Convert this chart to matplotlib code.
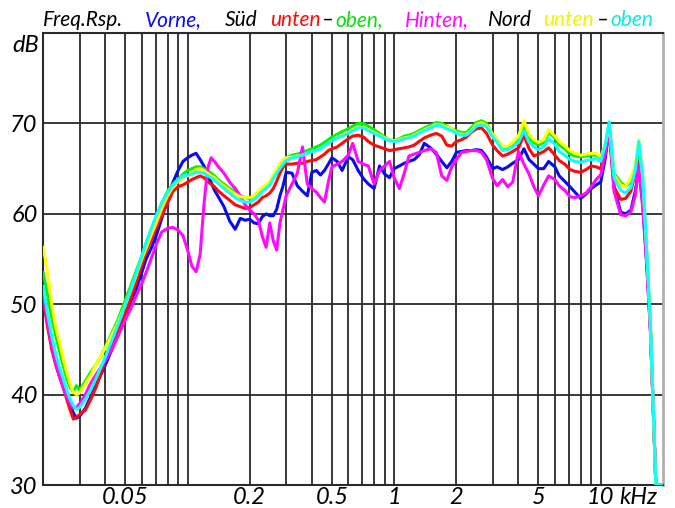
import numpy as np
import matplotlib
matplotlib.use("Agg")
import matplotlib.pyplot as plt
from matplotlib.ticker import NullFormatter

# frequency axis in kHz, shared by all six curves
freq_khz = [
    0.020, 0.021, 0.022, 0.023, 0.024, 0.025, 0.026, 0.027, 0.028, 0.029,
    0.030, 0.032, 0.034, 0.036, 0.038, 0.040, 0.043, 0.046, 0.050, 0.053,
    0.056, 0.060, 0.063, 0.067, 0.071, 0.075, 0.080, 0.085, 0.090, 0.095,
    0.100, 0.105, 0.110, 0.115, 0.120, 0.125, 0.130, 0.135, 0.140, 0.150,
    0.160, 0.170, 0.180, 0.190, 0.200, 0.210, 0.220, 0.230, 0.240, 0.250,
    0.260, 0.270, 0.280, 0.290, 0.300, 0.320, 0.340, 0.360, 0.380, 0.400,
    0.420, 0.440, 0.460, 0.480, 0.500, 0.530, 0.560, 0.600, 0.630, 0.670,
    0.710, 0.750, 0.800, 0.850, 0.900, 0.950, 1.00, 1.06, 1.12, 1.18,
    1.25, 1.32, 1.40, 1.50, 1.60, 1.70, 1.80, 1.90, 2.00, 2.12,
    2.24, 2.36, 2.50, 2.65, 2.80, 3.00, 3.15, 3.35, 3.55, 3.75,
    4.00, 4.25, 4.50, 4.75, 5.00, 5.30, 5.60, 6.00, 6.30, 6.70,
    7.10, 7.50, 8.00, 8.50, 9.00, 9.50, 10.0, 10.5, 11.0, 11.6,
    12.5, 13.2, 14.0, 14.7, 15.3, 16.0, 16.7, 17.4, 18.0, 18.5,
    20.0]

# dB values
vorne = [
    50.8, 48.0, 45.5, 43.5, 42.0, 41.0, 39.8, 38.8, 38.0, 37.4,
    37.6, 38.5, 39.8, 41.0, 42.2, 43.3, 45.0, 46.6, 48.6, 50.0,
    51.5, 53.5, 55.0, 56.3, 57.8, 59.5, 61.8, 63.5, 64.8, 65.8,
    66.2, 66.5, 66.7, 66.0, 65.3, 64.3, 63.5, 62.6, 62.0, 60.8,
    59.2, 58.3, 59.5, 59.3, 59.4, 59.0, 58.9, 59.7, 60.0, 59.8,
    59.8, 60.5, 62.0, 63.1, 64.6, 64.5, 63.1, 62.5, 62.0, 64.6,
    64.8, 64.3, 64.8, 65.5, 66.2, 65.8, 64.8, 66.3, 66.0, 64.8,
    63.9, 63.3, 62.8, 65.3, 64.4, 64.0, 65.0, 65.3, 65.6, 65.8,
    66.0, 66.5, 67.8, 67.3, 66.6, 65.8, 65.1, 65.8, 66.8, 66.9,
    67.0, 67.0, 67.1, 67.0, 66.3, 65.0, 65.2, 64.9, 65.2, 65.6,
    66.0, 67.2, 66.0, 65.5, 65.0, 65.0, 65.8, 65.2, 64.2, 63.6,
    63.0, 62.4, 61.7, 62.2, 62.8, 63.2, 63.5, 66.0, 69.4, 63.0,
    60.2, 60.0, 60.4, 62.5, 65.0, 61.0, 54.5, 47.3, 38.0, 30.0,
    30.0]

sued_unten = [
    50.5, 47.5, 45.0, 43.3, 42.0, 40.8, 39.5, 38.3, 37.3, 37.5,
    37.8, 38.3, 39.5, 40.8, 42.3, 43.8, 45.5, 47.0, 49.0, 50.6,
    52.2, 54.3, 55.8, 57.2, 58.6, 59.8, 61.2, 62.5, 63.0, 63.2,
    63.5, 63.8, 64.0, 64.2, 64.0, 63.6, 63.3, 63.0, 62.6, 62.0,
    61.5, 61.0, 60.8, 60.6, 60.7, 61.0, 61.3, 61.8, 62.0, 62.3,
    62.8, 63.6, 64.5, 65.2, 65.5, 65.5, 65.6, 65.6, 65.8, 65.9,
    66.0, 66.3, 66.6, 67.0, 67.2, 67.4, 67.8, 68.3, 68.6, 68.7,
    68.5, 68.0, 67.6, 67.4, 67.2, 67.0, 67.1, 67.2, 67.3, 67.4,
    67.6, 68.0, 68.4, 68.7, 68.9, 68.6, 67.6, 67.5, 68.0, 68.2,
    68.5, 69.0, 69.4, 69.5, 68.9, 67.6, 67.0, 66.4, 66.6, 66.9,
    67.3, 68.7, 67.2, 66.4, 66.6, 66.9, 67.3, 66.5, 65.9, 65.5,
    64.9, 64.7, 64.6, 64.9, 65.3, 65.2, 65.0, 66.8, 69.6, 63.0,
    61.6, 61.7, 62.5, 64.5, 66.6, 62.5, 55.5, 47.5, 38.0, 30.0,
    30.0]

sued_oben = [
    53.5, 51.0, 48.5, 46.5, 44.8, 43.2, 41.8, 40.8, 40.3, 41.0,
    40.5, 41.5, 42.5, 43.3, 44.2, 45.3, 46.8, 48.3, 50.5, 52.0,
    53.5, 55.3, 56.8, 58.3, 59.8, 61.2, 62.5, 63.3, 63.8, 64.4,
    64.8, 65.0, 65.2, 65.2, 65.0, 64.8, 64.5, 64.2, 63.8, 63.3,
    62.8, 62.4, 62.0, 61.8, 61.7, 62.0, 62.4, 62.8, 63.0, 63.5,
    64.2, 64.8, 65.4, 65.9, 66.2, 66.5, 66.6, 66.8, 67.0, 67.2,
    67.4, 67.6, 67.9, 68.2, 68.5, 68.8, 69.1, 69.4, 69.7, 70.0,
    70.0, 69.7, 69.3, 68.9, 68.5, 68.2, 68.1, 68.3, 68.6, 68.7,
    68.9, 69.2, 69.5, 69.8, 70.1, 70.0, 69.7, 69.4, 69.2, 69.0,
    69.0, 69.5, 70.1, 70.3, 70.0, 68.8, 68.2, 67.2, 67.3, 67.6,
    68.2, 69.8, 68.3, 67.9, 67.6, 67.9, 69.0, 68.4, 67.6, 67.2,
    66.6, 66.4, 66.3, 66.4, 66.5, 66.5, 66.2, 67.5, 70.0, 64.5,
    63.5, 63.0, 63.5, 65.0, 67.3, 63.5, 55.8, 47.8, 38.0, 30.0,
    30.0]

hinten = [
    51.5, 48.0, 45.5, 43.5, 42.0, 40.8, 39.8, 39.0, 38.5, 38.6,
    39.0, 40.0, 41.3, 42.2, 43.0, 43.8, 45.0, 46.5, 48.3, 49.5,
    50.8, 52.3, 53.5, 55.2, 56.8, 58.0, 58.4, 58.5, 58.2, 57.6,
    56.0, 54.2, 53.6, 55.5, 61.0, 65.0, 66.2, 65.8, 65.3, 64.5,
    63.5, 62.8, 62.0, 61.0, 60.4, 60.0, 59.3, 57.5, 56.3, 59.0,
    57.0, 56.0, 59.0, 60.5, 62.0, 63.3, 64.5, 67.4, 63.3, 62.8,
    62.4, 61.8, 61.3, 63.5, 65.2, 65.5, 65.8, 66.5, 67.8, 65.8,
    65.5, 65.3, 63.3, 64.8, 65.3, 65.8, 64.0, 62.8, 64.5, 66.4,
    66.6, 66.8, 67.0, 67.2, 66.8, 64.2, 63.7, 65.2, 66.0, 66.8,
    66.9, 67.0, 67.0, 66.8, 66.0, 63.9, 63.1, 63.8, 63.0, 63.5,
    66.9, 65.5, 64.4, 63.0, 62.0, 63.2, 64.2, 63.8, 63.1, 62.6,
    61.9, 61.8, 62.0, 62.3, 63.0, 63.8, 64.3, 66.5, 69.3, 62.5,
    59.9, 59.8, 60.2, 62.0, 65.3, 60.5, 54.5, 47.2, 38.0, 30.0,
    30.0]

nord_unten = [
    56.3, 53.5, 50.0, 47.5, 45.8, 44.0, 42.5, 41.2, 40.3, 40.0,
    40.2, 41.2, 42.2, 43.3, 44.3, 45.2, 46.6, 48.0, 50.0, 51.5,
    53.0, 55.0, 56.2, 57.8, 59.2, 60.6, 62.0, 63.0, 63.6, 64.0,
    64.2, 64.6, 64.9, 65.0, 64.8, 64.5, 64.2, 64.0, 63.6, 63.1,
    62.6, 62.2, 61.9, 61.8, 61.8, 62.0, 62.5, 62.9, 63.2, 63.6,
    64.2, 64.9, 65.5, 65.9, 66.2, 66.3, 66.4, 66.5, 66.7, 66.9,
    67.0, 67.2, 67.5, 67.8, 68.1, 68.5, 68.7, 69.0, 69.3, 69.6,
    69.6, 69.3, 69.0, 68.7, 68.4, 68.2, 68.1, 68.2, 68.4, 68.5,
    68.7, 69.0, 69.3, 69.6, 69.9, 69.8, 69.6, 69.4, 69.0, 68.8,
    68.8, 69.2, 69.9, 70.1, 69.8, 68.8, 68.2, 67.4, 67.5, 67.9,
    68.6, 70.3, 68.8, 68.2, 67.9, 68.2, 69.3, 68.6, 68.0, 67.5,
    67.0, 66.7, 66.5, 66.6, 66.7, 66.7, 66.3, 67.6, 69.8, 64.3,
    63.2, 63.0, 64.0, 65.3, 68.2, 64.0, 56.0, 48.0, 38.0, 30.0,
    30.0]

nord_oben = [
    52.0, 49.0, 46.5, 44.5, 43.0, 41.8, 40.5, 39.5, 38.8, 38.4,
    38.6, 39.5, 40.6, 41.8, 43.0, 44.2, 46.0, 47.7, 50.0, 51.6,
    53.2, 55.3, 56.8, 58.5, 60.0, 61.2, 62.4, 63.2, 63.8, 64.2,
    64.3, 64.4, 64.6, 64.6, 64.5, 64.2, 64.0, 63.7, 63.4, 62.8,
    62.3, 61.8, 61.5, 61.3, 61.3, 61.6, 62.0, 62.5, 62.8, 63.2,
    63.9, 64.5, 65.0, 65.5, 65.9, 66.2, 66.3, 66.5, 66.7, 66.9,
    67.0, 67.2, 67.5, 67.8, 68.1, 68.4, 68.6, 68.9, 69.2, 69.5,
    69.5, 69.2, 68.9, 68.6, 68.3, 68.1, 68.0, 68.1, 68.3, 68.4,
    68.6, 68.9, 69.2, 69.5, 69.8, 69.7, 69.4, 69.2, 68.9, 68.7,
    68.7, 69.1, 69.7, 69.9, 69.6, 68.5, 67.9, 67.0, 67.1, 67.4,
    67.9, 69.2, 67.9, 67.4, 67.1, 67.4, 68.3, 67.7, 66.9, 66.5,
    66.0, 65.8, 65.7, 65.9, 66.0, 66.1, 65.8, 67.5, 70.2, 64.0,
    62.6, 62.3, 62.9, 64.8, 68.0, 64.0, 56.0, 48.0, 38.0, 30.0,
    30.0]

major_ticks = [0.05, 0.2, 0.5, 1, 2, 5, 10]
major_labels = ['0.05', '0.2', '0.5', '1', '2', '5', '10']
minor_ticks = [0.03, 0.04, 0.06, 0.07, 0.08, 0.09, 0.1, 0.3, 0.4, 0.6, 0.7,
               0.8, 0.9, 3, 4, 6, 7, 8, 9]
db_ticks = [30, 40, 50, 60, 70]

plt.rcParams['font.family'] = ['Lato', 'DejaVu Sans']
LABEL_SIZE = 17
TITLE_SIZE = 15

fig = plt.figure(figsize=(6.75, 5.08), dpi=100)
ax = fig.add_axes([0.064, 0.045, 0.918, 0.890])

series = [
    (vorne, '#0a0aee'),
    (sued_unten, '#ff0a0a'),
    (sued_oben, '#0af00a'),
    (hinten, '#ff0aff'),
    (nord_unten, '#ffff00'),
    (nord_oben, '#0affff'),
]
for vals, col in series:
    ax.plot(freq_khz, vals, color=col, lw=2.2, solid_joinstyle='round', zorder=3)

ax.set_xscale('log')
ax.set_xlim(0.02, 20)
ax.set_ylim(30, 80)

ax.set_xticks(major_ticks)
ax.set_xticklabels(major_labels)
ax.set_xticks(minor_ticks, minor=True)
ax.xaxis.set_minor_formatter(NullFormatter())
ax.set_yticks(db_ticks)
ax.set_yticklabels([str(v) for v in db_ticks])

ax.grid(True, which='both', axis='x', color='#2a2a2a', lw=1.3, zorder=1)
ax.grid(True, which='major', axis='y', color='#2a2a2a', lw=1.3, zorder=1)
ax.tick_params(which='both', length=0)
ax.tick_params(axis='x', pad=1)
ax.tick_params(axis='y', pad=4)
for lab in ax.get_xticklabels() + ax.get_yticklabels():
    lab.set_fontsize(LABEL_SIZE)
    lab.set_fontstyle('italic')

for sp in ax.spines.values():
    sp.set_color('#2a2a2a')
    sp.set_linewidth(1.5)
ax.spines['right'].set_color('#b0b0b0')
ax.spines['right'].set_linewidth(2)

ax.text(-0.006, 0.972, 'dB', transform=ax.transAxes, ha='right', va='center',
        fontsize=LABEL_SIZE, fontstyle='italic')
ax.text(0.93, -0.004, 'kHz', transform=ax.transAxes, ha='left', va='top',
        fontsize=LABEL_SIZE, fontstyle='italic')

# coloured title: (left edge in px, text, colour)
title_pieces = [
    (43, 'Freq.Rsp.', 'black'),
    (145, 'Vorne,', '#0a0aee'),
    (225, 'Süd', 'black'),
    (270, 'unten', '#ff0a0a'),
    (322, '–', 'black'),
    (335, 'oben,', '#0ae00a'),
    (405, 'Hinten,', '#ff0aff'),
    (488, 'Nord', 'black'),
    (543, 'unten', '#f4f400'),
    (597, '–', 'black'),
    (610, 'oben', '#10e8e8'),
]
for px, txt, col in title_pieces:
    fig.text(px / 675, (508 - 26) / 508, txt, color=col, fontsize=TITLE_SIZE,
             fontstyle='italic', ha='left', va='baseline')

fig.savefig('out.png', dpi=100)
